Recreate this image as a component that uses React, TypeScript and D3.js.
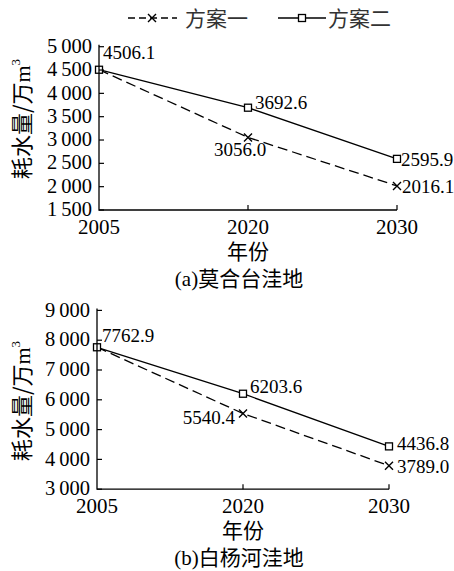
import React from 'react';
import * as d3 from 'd3';

const years = ['2005', '2020', '2030'];
const seriesNames = ['方案一', '方案二'];

const mohetaiPlan1 = [4506.1, 3056.0, 2016.1];
const mohetaiPlan2 = [4506.1, 3692.6, 2595.9];
const mohetaiTicks = [1500, 2000, 2500, 3000, 3500, 4000, 4500, 5000];

const baiyangPlan1 = [7762.9, 5540.4, 3789.0];
const baiyangPlan2 = [7762.9, 6203.6, 4436.8];
const baiyangTicks = [3000, 4000, 5000, 6000, 7000, 8000, 9000];

const serif = '"Liberation Serif", "Times New Roman", serif';
const cjk = '"Noto Sans CJK SC", sans-serif';

// label offsets for each point: [dx, dy, anchor]
type Lab = [number, number, string];

const fmtTick = (v: number) => {
  const s = String(v);
  return s.length > 3 ? s.slice(0, s.length - 3) + '\u2009' + s.slice(-3) : s;
};

const Cross = ({ x, y }: { x: number; y: number }) => (
  <path d={`M${x - 4},${y - 4}L${x + 4},${y + 4}M${x - 4},${y + 4}L${x + 4},${y - 4}`} stroke="#000" strokeWidth={1.4} />
);
const Square = ({ x, y }: { x: number; y: number }) => (
  <rect x={x - 3.5} y={y - 3.5} width={7} height={7} fill="#fff" stroke="#000" strokeWidth={1.3} />
);

const Panel = ({ top, bottom, left, right, ticks, p1, p2, labs1, labs2, title, titleX, labelY }: {
  top: number; bottom: number; left: number; right: number; ticks: number[];
  p1: number[]; p2: number[]; labs1: Lab[]; labs2: Lab[]; title: string; titleX: number; labelY: number;
}) => {
  const x = d3.scalePoint<string>().domain(years).range([left, right]);
  const y = d3.scaleLinear().domain([ticks[0], ticks[ticks.length - 1]]).range([bottom, top]);
  const line = d3.line<number>().x((_, i) => x(years[i])!).y(d => y(d));
  return (
    <g>
      <path d={line(p1)!} fill="none" stroke="#000" strokeWidth={1.3} strokeDasharray="10,5" />
      <path d={line(p2)!} fill="none" stroke="#000" strokeWidth={1.3} />
      {p1.slice(1).map((v, i) => <Cross key={i} x={x(years[i + 1])!} y={y(v)} />)}
      {p2.map((v, i) => <Square key={i} x={x(years[i])!} y={y(v)} />)}
      <path d={`M${left},${top - 2}V${bottom}H${right}`} fill="none" stroke="#000" strokeWidth={1.3} />
      {ticks.map(t => (
        <g key={t}>
          <line x1={left} x2={left + 5} y1={y(t)} y2={y(t)} stroke="#000" strokeWidth={1.2} />
          <text x={left - 7} y={y(t)} dy="0.3em" textAnchor="end" fontFamily={serif} fontSize={20.5}>{fmtTick(t)}</text>
        </g>
      ))}
      {years.map((yr, i) => (
        <g key={yr}>
          {i > 0 && <line x1={x(yr)!} x2={x(yr)!} y1={bottom} y2={bottom - 5} stroke="#000" strokeWidth={1.2} />}
          <text x={x(yr)!} y={bottom + 24} textAnchor="middle" fontFamily={serif} fontSize={21}>{yr}</text>
        </g>
      ))}
      {p1.map((v, i) => i === 0 ? null : (
        <text key={'a' + i} x={x(years[i])! + labs1[i][0]} y={y(v) + labs1[i][1]} dy="0.35em"
          textAnchor={labs1[i][2]} fontFamily={serif} fontSize={19}>{v.toFixed(1)}</text>
      ))}
      {p2.map((v, i) => (
        <text key={'b' + i} x={x(years[i])! + labs2[i][0]} y={y(v) + labs2[i][1]} dy="0.35em"
          textAnchor={labs2[i][2]} fontFamily={serif} fontSize={19}>{v.toFixed(1)}</text>
      ))}
      <text transform={`translate(30,${labelY}) rotate(-90)`} textAnchor="middle" fontSize={22}>
        <tspan fontFamily={cjk}>耗水量/万</tspan>
        <tspan fontFamily={serif}>m</tspan>
        <tspan fontFamily={serif} fontSize={13} dy={-10}>3</tspan>
      </text>
      <text x={(left + right) / 2} y={bottom + 49} textAnchor="middle" fontFamily={cjk} fontSize={21}>年份</text>
      <text x={titleX} y={bottom + 76} textAnchor="middle" fontSize={21}>
        <tspan fontFamily={serif}>{title.slice(0, 3)}</tspan>
        <tspan fontFamily={cjk}>{title.slice(3)}</tspan>
      </text>
    </g>
  );
};

export default function App() {
  return (
    <svg width={454} height={571} style={{ display: 'block', position: 'absolute', left: 0, top: 0, background: '#fff' }}>
      <g>
        <line x1={128} x2={177} y1={18} y2={18} stroke="#000" strokeWidth={1.3} strokeDasharray="7,4" />
        <Cross x={152} y={18} />
        <text x={185} y={26} fontFamily={cjk} fontSize={21} fill="#333">{seriesNames[0]}</text>
        <line x1={278} x2={326} y1={18} y2={18} stroke="#000" strokeWidth={1.3} />
        <Square x={302} y={18} />
        <text x={328} y={26} fontFamily={cjk} fontSize={21} fill="#333">{seriesNames[1]}</text>
      </g>
      <Panel top={46.7} bottom={210} left={99} right={397} ticks={mohetaiTicks}
        p1={mohetaiPlan1} p2={mohetaiPlan2}
        labs1={[[0, 0, 'start'], [-8, 12, 'middle'], [5, 0, 'start']]}
        labs2={[[4, -17, 'start'], [7, -5, 'start'], [4, 0, 'start']]}
        title="(a)莫合台洼地" titleX={239} labelY={119} />
      <Panel top={310.4} bottom={489.2} left={97} right={389} ticks={baiyangTicks}
        p1={baiyangPlan1} p2={baiyangPlan2}
        labs1={[[0, 0, 'start'], [-8, 4, 'end'], [8, 1, 'start']]}
        labs2={[[5, -12, 'start'], [7, -7, 'start'], [8, -3, 'start']]}
        title="(b)白杨河洼地" titleX={239} labelY={401} />
    </svg>
  );
}
